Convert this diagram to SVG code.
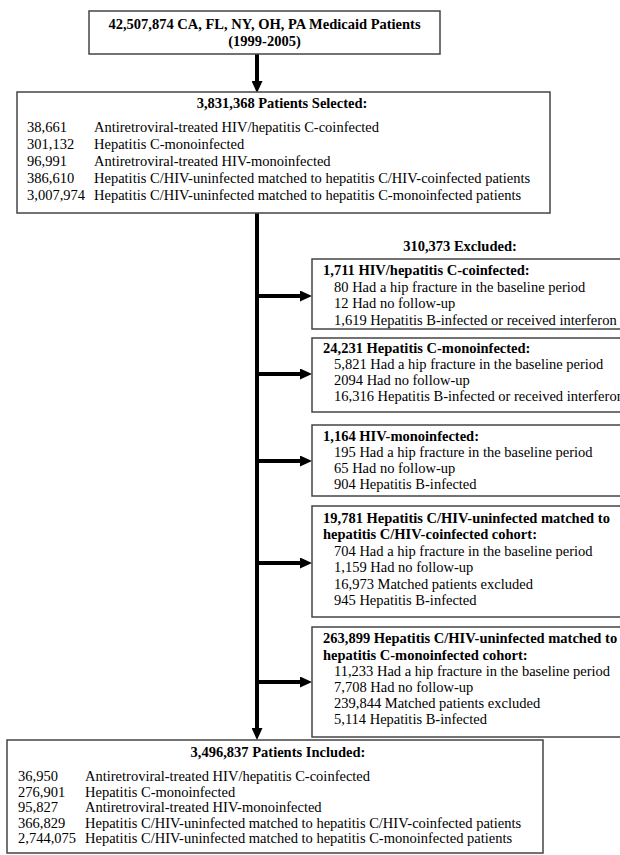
<svg xmlns="http://www.w3.org/2000/svg" width="620" height="855" viewBox="0 0 620 855">
<style>
  text { font-family: "Liberation Serif", "Times New Roman", serif; font-size: 14.5px; fill: #000; }
  .b { font-weight: bold; }
  .c { text-anchor: middle; }
  .box { fill: #fff; stroke: #444; stroke-width: 1.5; }
  .conn { stroke: #000; stroke-width: 4; fill: none; }
</style>
<defs>
  <marker id="ah" viewBox="0 0 12 11" refX="0" refY="5.5" markerWidth="12" markerHeight="11" markerUnits="userSpaceOnUse" orient="auto">
    <path d="M0,0 L12,5.5 L0,11 z" fill="#000"/>
  </marker>
</defs>
<rect width="620" height="855" fill="#fff"/>

<g id="connectors">
  <line class="conn" x1="257" y1="54" x2="257" y2="81" marker-end="url(#ah)"/>
  <line class="conn" x1="257" y1="213" x2="257" y2="728" marker-end="url(#ah)"/>
  <line class="conn" x1="257" y1="296" x2="300" y2="296" marker-end="url(#ah)"/>
  <line class="conn" x1="257" y1="374" x2="300" y2="374" marker-end="url(#ah)"/>
  <line class="conn" x1="257" y1="461" x2="300" y2="461" marker-end="url(#ah)"/>
  <line class="conn" x1="257" y1="563" x2="300" y2="563" marker-end="url(#ah)"/>
  <line class="conn" x1="257" y1="682" x2="300" y2="682" marker-end="url(#ah)"/>
</g>

<g id="source">
  <rect class="box" x="89" y="11" width="351" height="43"/>
  <text class="b c" x="264.5" y="29">42,507,874 CA, FL, NY, OH, PA Medicaid Patients</text>
  <text class="b c" x="264.5" y="46">(1999-2005)</text>
</g>

<g id="selected">
  <rect class="box" x="17" y="92" width="533" height="121"/>
  <text class="b c" x="282" y="108">3,831,368 Patients Selected:</text>
  <text x="27" y="131.5">38,661</text><text x="94" y="131.5">Antiretroviral-treated HIV/hepatitis C-coinfected</text>
  <text x="27" y="148.5">301,132</text><text x="94" y="148.5">Hepatitis C-monoinfected</text>
  <text x="27" y="165.5">96,991</text><text x="94" y="165.5">Antiretroviral-treated HIV-monoinfected</text>
  <text x="27" y="182.5">386,610</text><text x="94" y="182.5">Hepatitis C/HIV-uninfected matched to hepatitis C/HIV-coinfected patients</text>
  <text x="27" y="199.5">3,007,974</text><text x="94" y="199.5">Hepatitis C/HIV-uninfected matched to hepatitis C-monoinfected patients</text>
</g>

<g id="excluded-label">
  <text class="b c" x="460" y="251">310,373 Excluded:</text>
</g>

<g id="excl-coinfected">
  <rect class="box" x="312" y="259" width="330" height="70"/>
  <text class="b" x="323" y="275">1,711 HIV/hepatitis C-coinfected:</text>
  <text x="334" y="291.5">80 Had a hip fracture in the baseline period</text>
  <text x="334" y="308">12 Had no follow-up</text>
  <text x="334" y="324.5">1,619 Hepatitis B-infected or received interferon</text>
</g>

<g id="excl-hcv">
  <rect class="box" x="312" y="338" width="330" height="74"/>
  <text class="b" x="323" y="353">24,231 Hepatitis C-monoinfected:</text>
  <text x="334" y="369">5,821 Had a hip fracture in the baseline period</text>
  <text x="334" y="385">2094 Had no follow-up</text>
  <text x="334" y="401">16,316 Hepatitis B-infected or received interferon</text>
</g>

<g id="excl-hiv">
  <rect class="box" x="312" y="425" width="330" height="71"/>
  <text class="b" x="323" y="441">1,164 HIV-monoinfected:</text>
  <text x="334" y="457">195 Had a hip fracture in the baseline period</text>
  <text x="334" y="473">65 Had no follow-up</text>
  <text x="334" y="489">904 Hepatitis B-infected</text>
</g>

<g id="excl-matched-coinf">
  <rect class="box" x="312" y="506" width="330" height="111"/>
  <text class="b" x="323" y="522.5">19,781 Hepatitis C/HIV-uninfected matched to</text>
  <text class="b" x="323" y="539">hepatitis C/HIV-coinfected cohort:</text>
  <text x="334" y="555.5">704 Had a hip fracture in the baseline period</text>
  <text x="334" y="572">1,159 Had no follow-up</text>
  <text x="334" y="588.5">16,973 Matched patients excluded</text>
  <text x="334" y="605">945 Hepatitis B-infected</text>
</g>

<g id="excl-matched-mono">
  <rect class="box" x="312" y="627" width="330" height="110"/>
  <text class="b" x="323" y="643">263,899 Hepatitis C/HIV-uninfected matched to</text>
  <text class="b" x="323" y="659.5">hepatitis C-monoinfected cohort:</text>
  <text x="334" y="675.5">11,233 Had a hip fracture in the baseline period</text>
  <text x="334" y="691.5">7,708 Had no follow-up</text>
  <text x="334" y="708">239,844 Matched patients excluded</text>
  <text x="334" y="724">5,114 Hepatitis B-infected</text>
</g>

<g id="included">
  <rect class="box" x="7" y="740" width="536" height="113"/>
  <text class="b c" x="278" y="757">3,496,837 Patients Included:</text>
  <text x="18" y="781">36,950</text><text x="85" y="781">Antiretroviral-treated HIV/hepatitis C-coinfected</text>
  <text x="18" y="796.5">276,901</text><text x="85" y="796.5">Hepatitis C-monoinfected</text>
  <text x="18" y="812">95,827</text><text x="85" y="812">Antiretroviral-treated HIV-monoinfected</text>
  <text x="18" y="827.5">366,829</text><text x="85" y="827.5">Hepatitis C/HIV-uninfected matched to hepatitis C/HIV-coinfected patients</text>
  <text x="18" y="843">2,744,075</text><text x="85" y="843">Hepatitis C/HIV-uninfected matched to hepatitis C-monoinfected patients</text>
</g>
</svg>
